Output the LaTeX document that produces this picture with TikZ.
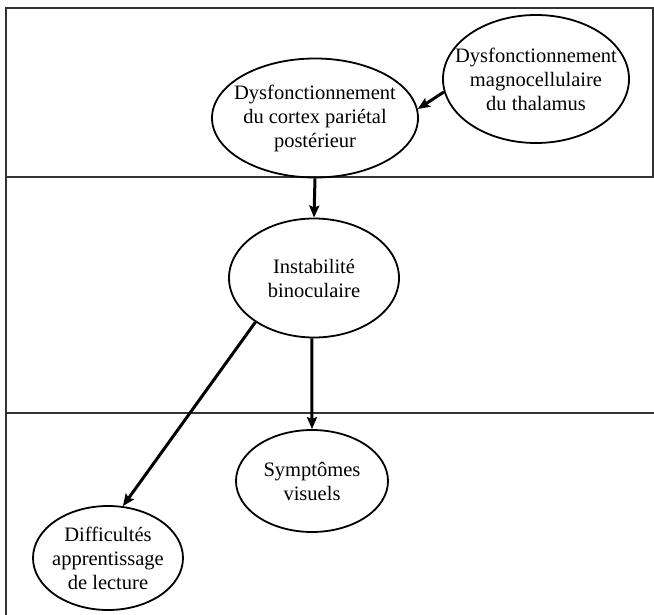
\documentclass[tikz,border=0pt]{standalone}
\usepackage{fontspec}
\setmainfont{Liberation Serif}
\usetikzlibrary{shapes.geometric,arrows.meta}

\begin{document}
\begin{tikzpicture} [x=1pt,y=-1pt,
  bulle/.style={draw, ellipse, line width=1.8pt, inner sep=0pt},
  texte/.style={align=center, inner sep=0pt, font=\fontsize{20.5}{24}\selectfont},
  fleche/.style={line width=3pt, -{Stealth[length=12pt,width=10pt,inset=2pt]}},
  cadre/.style={line width=2pt, black!80}]
\useasboundingbox (0,0) rectangle (654,615);

% the frame
\draw [cadre] (6,615)--(6,8)--(653,8)--(653,177);
\draw [cadre] (6,177)--(654,177);
\draw [cadre] (6,413)--(654,413);


\node [bulle, minimum width=186pt, minimum height=128pt,
  label={[texte]center:{Dysfonctionnement\\magnocellulaire\\du thalamus}}]
  (thal) at (536,79) {};

\node [bulle, minimum width=206pt, minimum height=119pt,
  label={[texte]center:{Dysfonctionnement\\du cortex pariétal\\postérieur}}]
  (cortex) at (315,118) {};

\node [bulle, minimum width=170pt, minimum height=119pt,
  label={[texte]center:{Instabilité\\binoculaire}}]
  (instab) at (314,278) {};

\node [bulle, minimum width=152pt, minimum height=102pt,
  label={[texte]center:{Symptômes\\visuels}}]
  (sympt) at (312,481) {};

\node [bulle, minimum width=150pt, minimum height=104pt,
  label={[texte]center:{Difficultés\\apprentissage\\de lecture}}]
  (diffic) at (108,558) {};


\draw [fleche] (thal.188)--(cortex.5);
\draw [fleche] (cortex.south)--(instab.north);
\draw [fleche] (instab.-92)--(sympt.north);
\draw [fleche] (instab.217)--(diffic.74);


%\draw [help lines] (0,0) grid[step=50] (654,615);
\end{tikzpicture}
\end{document}
